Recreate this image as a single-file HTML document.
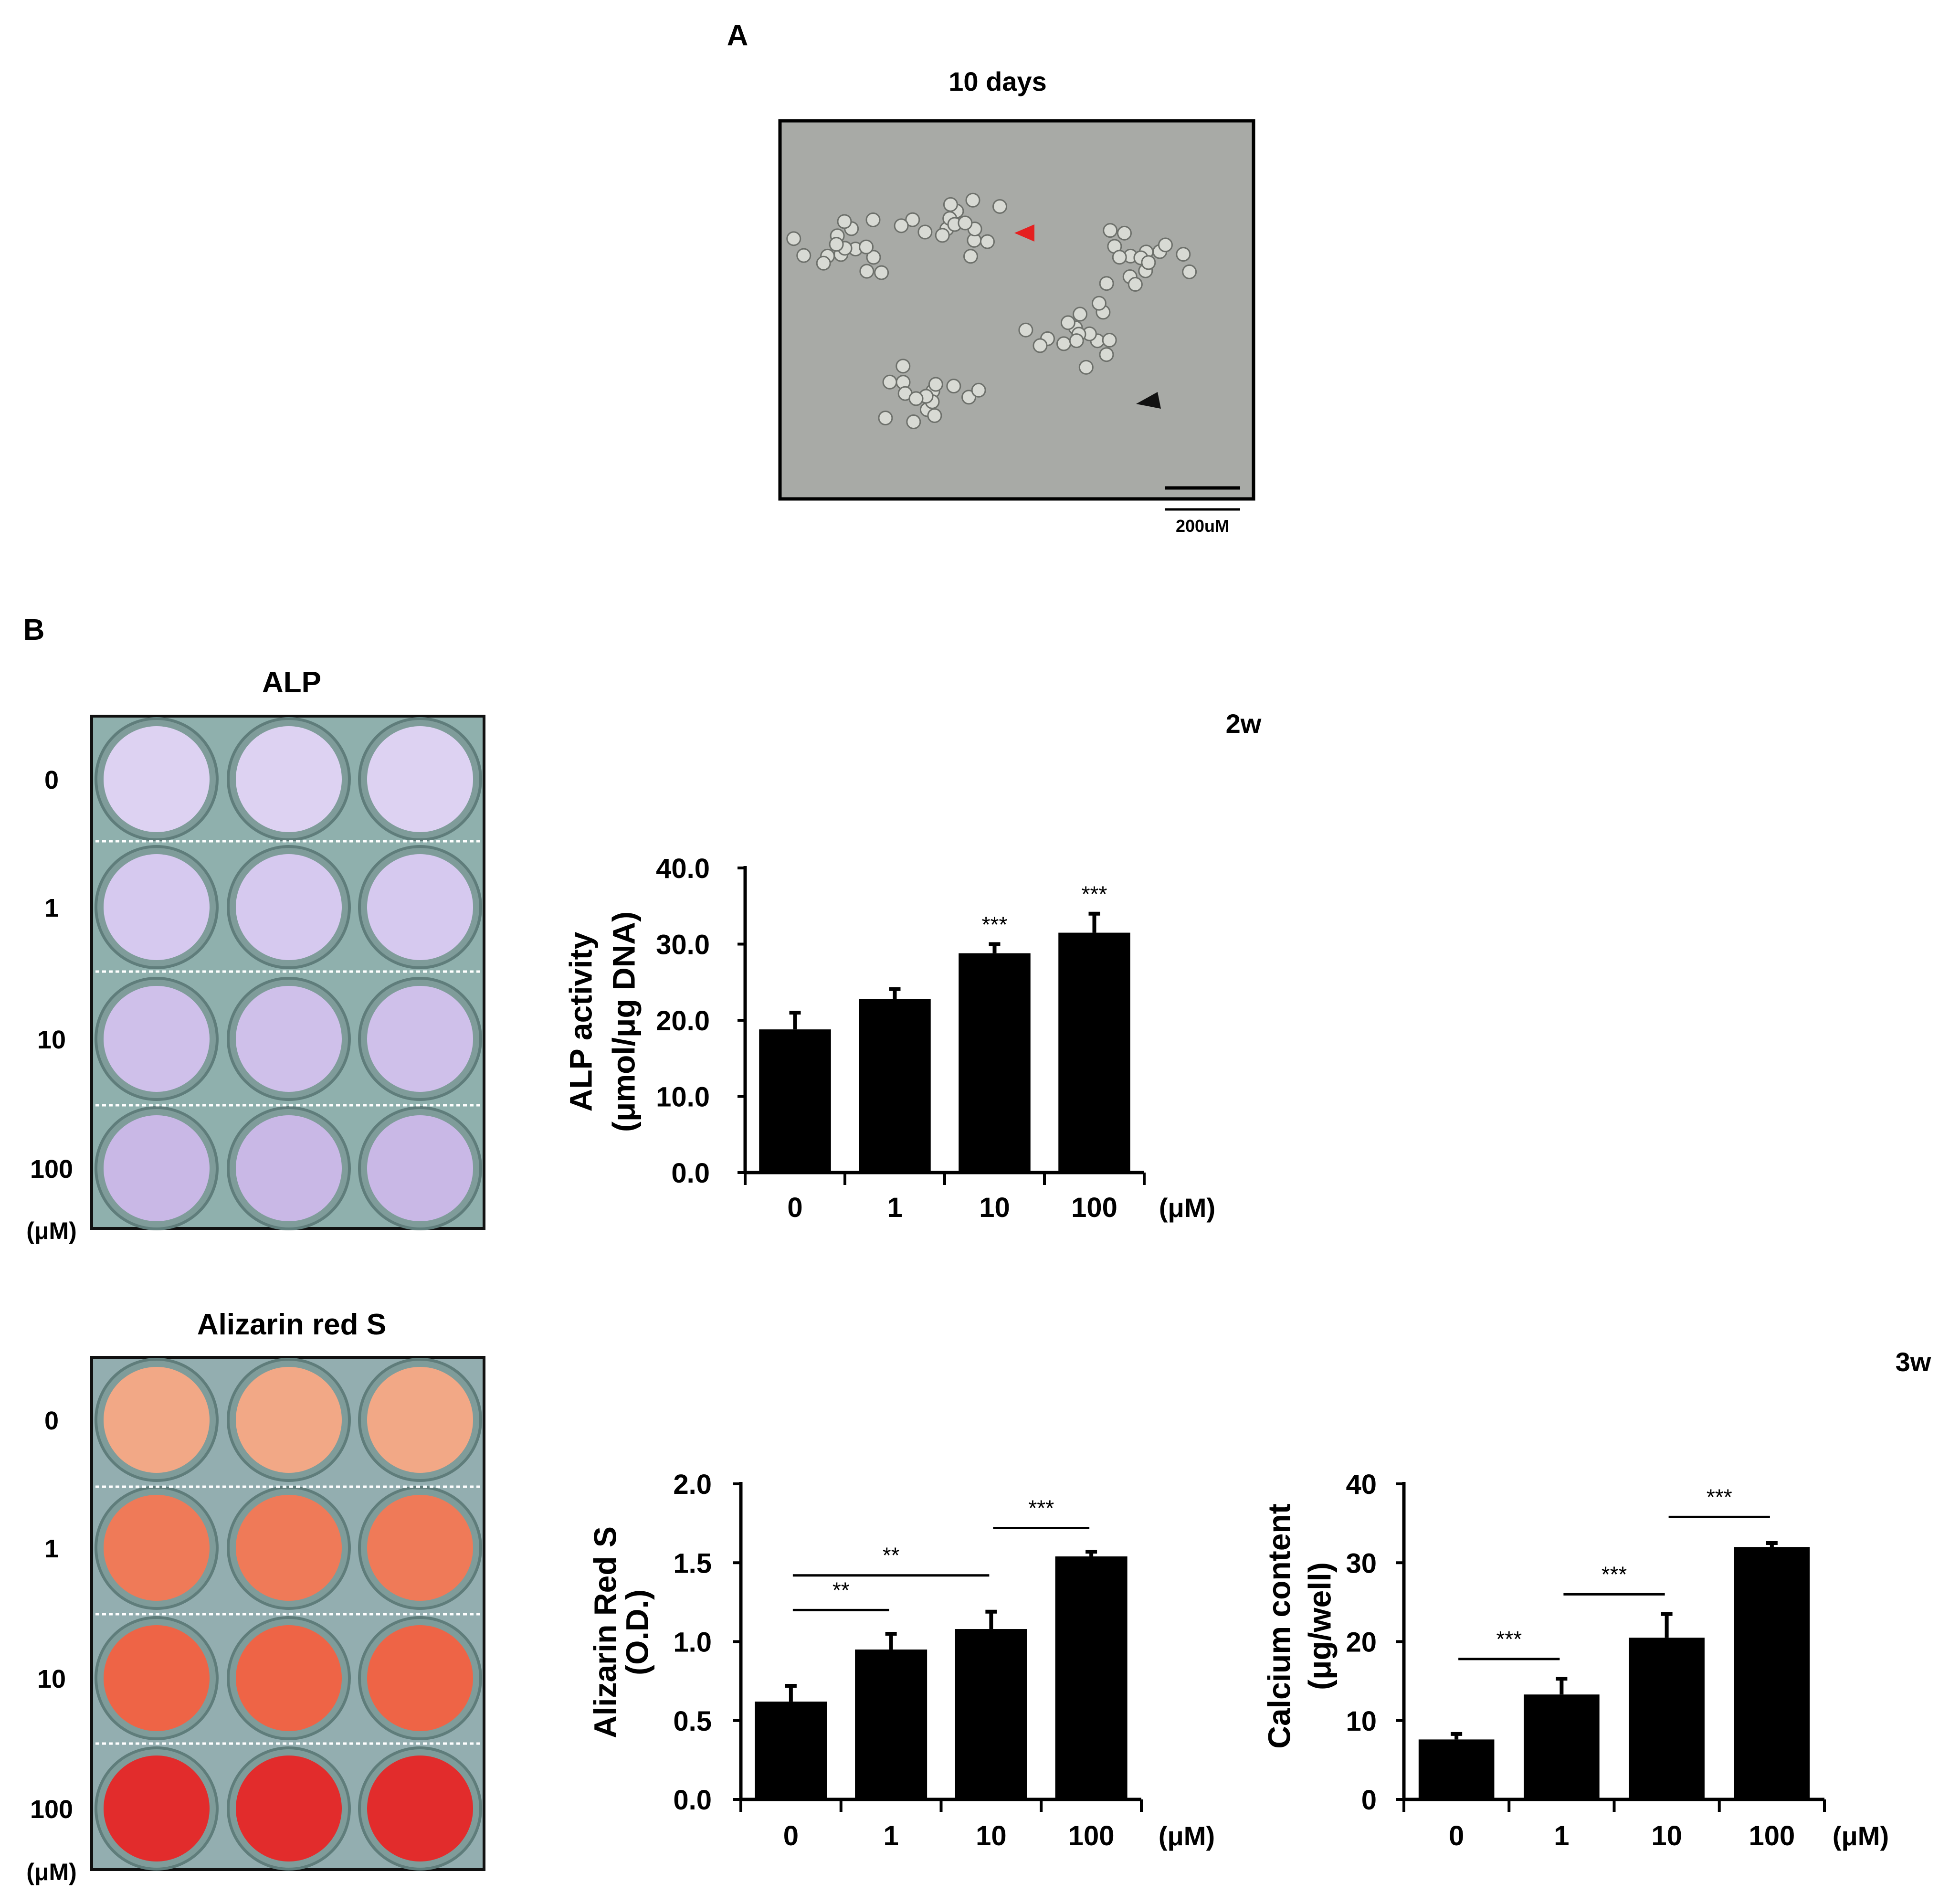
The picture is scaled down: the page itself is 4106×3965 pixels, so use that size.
<!DOCTYPE html>
<html><head><meta charset="utf-8"><style>
html,body{margin:0;padding:0;background:#fff}
svg{display:block}
text{font-family:"Liberation Sans",sans-serif}
</style></head><body>
<svg id="fig" width="4106" height="3965" viewBox="0 0 4106 3965" xmlns="http://www.w3.org/2000/svg">
<rect width="4106" height="3965" fill="#fff"/>
<text x="1545" y="95" font-size="62" font-weight="bold" text-anchor="middle">A</text>
<text x="2090" y="190" font-size="56" font-weight="bold" text-anchor="middle">10 days</text>
<g>
<rect x="1634" y="253" width="992" height="792" fill="#a8aaa6" stroke="#000" stroke-width="7"/>
<g id="cells" fill="#d8dad4" stroke="#6d706b" stroke-width="3"></g>
<polygon points="2125,488 2167,470 2167,506" fill="#e52020"/>
<polygon points="2380,846 2425,821 2432,856" fill="#111"/>
<line x1="2440" y1="1022" x2="2598" y2="1022" stroke="#000" stroke-width="7"/>
</g>
<line x1="2440" y1="1067" x2="2598" y2="1067" stroke="#000" stroke-width="5"/>
<text x="2519" y="1114" font-size="36" font-weight="bold" text-anchor="middle">200uM</text>

<text x="71" y="1340" font-size="62" font-weight="bold" text-anchor="middle">B</text>
<text x="611" y="1450" font-size="62" font-weight="bold" text-anchor="middle">ALP</text>
<text x="611" y="2795" font-size="62" font-weight="bold" text-anchor="middle">Alizarin red S</text>
<text x="2605" y="1535" font-size="56" font-weight="bold" text-anchor="middle">2w</text>
<text x="4008" y="2872" font-size="56" font-weight="bold" text-anchor="middle">3w</text>
<g id="plates"></g>
<g id="charts"></g>
</svg>
<script>
const NS="http://www.w3.org/2000/svg";
function mk(tag,attrs,parent){const e=document.createElementNS(NS,tag);for(const k in attrs)e.setAttribute(k,attrs[k]);parent.appendChild(e);return e;}
const cellsG=document.getElementById('cells');
const clusterCenters=[[2000,470],[2390,540],[2260,700],[1940,830],[1770,520]];
clusterCenters.forEach((c,ci)=>{for(let i=0;i<18;i++){const a=i*2.4+ci,r=(i%6)*14;
const e=mk('circle',{cx:c[0]+Math.cos(a)*r*1.6,cy:c[1]+Math.sin(a)*r,r:14},cellsG);

}});

const plateRows=["0","1","10","100"];
const plates=[
 {top:1500,name:'alp-plate',bg:'#8fb0ad',wells:['#ddd2f2','#d6c9ef','#cfc0ea','#c9b8e6'],rowY:[1632,1900,2176,2447],dots:[1762,2035,2315]},
 {top:2843,name:'alizarin-plate',bg:'#93aeb0',wells:['#f2a886','#ef7a58','#ee6446','#e22c2c'],rowY:[2974,3242,3515,3788],dots:[3114,3381,3652]}
];
const colX=[328,605,880];
const pg=document.getElementById('plates');
plates.forEach(p=>{
 const g=mk('g',{},pg);
 
 
 mk('rect',{x:192,y:p.top,width:822,height:1073,fill:p.bg,stroke:'#111','stroke-width':6},g);
 p.rowY.forEach((y,ri)=>{colX.forEach(x=>{
  mk('circle',{cx:x,cy:y,r:127,fill:'#7f9c9a',stroke:'#5f7d7b','stroke-width':6},g);
  const w=mk('circle',{cx:x,cy:y,r:111,fill:p.wells[ri]},g);
  
  
 });
 const t=mk('text',{x:108,y:y+20,'font-size':54,'font-weight':'bold','text-anchor':'middle'},pg);
 t.textContent=plateRows[ri];
 
 
 });
 p.dots.forEach(y=>mk('line',{x1:200,x2:1007,y1:y,y2:y,stroke:'#fff','stroke-width':5,'stroke-dasharray':'8 6'},g));
 const u=mk('text',{x:108,y:p.top+1095,'font-size':50,'font-weight':'bold','text-anchor':'middle'},pg);
 u.textContent='(μM)';
 
 
});

const categories=["0","1","10","100"];
const alpValues=[18.8,22.8,28.8,31.5];
const alpErrors=[2.2,1.3,1.2,2.5];
const alpTicks=["0.0","10.0","20.0","30.0","40.0"];
const arsValues=[0.62,0.95,1.08,1.54];
const arsErrors=[0.1,0.1,0.11,0.03];
const arsTicks=["0.0","0.5","1.0","1.5","2.0"];
const caValues=[7.6,13.3,20.5,32.0];
const caErrors=[0.7,2.0,3.0,0.5];
const caTicks=["0","10","20","30","40"];
const arsBrackets=[[0,1,1.2,"**"],[0,2,1.42,"**"],[2,3,1.72,"***"]];
const caBrackets=[[0,1,17.8,"***"],[1,2,26.0,"***"],[2,3,35.8,"***"]];
const alpStars=["","","***","***"];

const charts=[
 {name:'alp-chart',x0:1561,x1:2397,y0:2456,y1:1818,max:40,vals:alpValues,errs:alpErrors,ticks:alpTicks,labX:1487,xlabY:2549,unitX:2487,titles:["ALP activity","(μmol/μg DNA)"],titleX:[1222,1312],titleY:2140,stars:alpStars,brackets:[]},
 {name:'alizarin-chart',x0:1552,x1:2391,y0:3769,y1:3108,max:2,vals:arsValues,errs:arsErrors,ticks:arsTicks,labX:1491,xlabY:3865,unitX:2486,titles:["Alizarin Red S","(O.D.)"],titleX:[1273,1340],titleY:3419,stars:null,brackets:arsBrackets},
 {name:'calcium-chart',x0:2941,x1:3822,y0:3769,y1:3108,max:40,vals:caValues,errs:caErrors,ticks:caTicks,labX:2884,xlabY:3865,unitX:3898,titles:["Calcium content","(μg/well)"],titleX:[2685,2770],titleY:3406,stars:null,brackets:caBrackets}
];
const cg=document.getElementById('charts');
charts.forEach(c=>{
 const g=mk('g',{},cg);
 
 
 const band=(c.x1-c.x0)/4;
 const X=i=>c.x0+band*(i+0.5);
 const Y=v=>c.y0-(v/c.max)*(c.y0-c.y1);
 const bw=band*0.72;
 c.vals.forEach((v,i)=>{
  const b=mk('rect',{x:X(i)-bw/2,y:Y(v),width:bw,height:c.y0-Y(v),fill:'#000'},g);
  
  
  const e=c.errs[i];
  const eb=mk('path',{d:`M${X(i)},${Y(v)} V${Y(v+e)} M${X(i)-12},${Y(v+e)} H${X(i)+12}`,stroke:'#000','stroke-width':8,fill:'none'},g);
  
  
  if(c.stars&&c.stars[i]){const s=mk('text',{x:X(i),y:Y(v+e)-25,'font-size':46,'text-anchor':'middle'},g);s.textContent=c.stars[i];
   
   }
  const t=mk('text',{x:X(i),y:c.xlabY,'font-size':58,'font-weight':'bold','text-anchor':'middle'},g);t.textContent=categories[i];
  
  
 });
 c.brackets.forEach(br=>{
  const l=mk('line',{x1:X(br[0])+4,x2:X(br[1])-4,y1:Y(br[2]),y2:Y(br[2]),stroke:'#000','stroke-width':5},g);
  
  
  const s=mk('text',{x:(X(br[0])+X(br[1]))/2,y:Y(br[2])-26,'font-size':46,'text-anchor':'middle'},g);s.textContent=br[3];
  
  
 });
 const ax=mk('path',{d:`M${c.x0},${c.y1-4} V${c.y0} M${c.x0},${c.y0} H${c.x1}`,stroke:'#000','stroke-width':7,fill:'none'},g);
 
 
 for(let i=0;i<=4;i++)mk('line',{x1:c.x0+band*i,x2:c.x0+band*i,y1:c.y0,y2:c.y0+26,stroke:'#000','stroke-width':6},g);
 c.ticks.forEach((tk,i)=>{
  const y=Y(c.max*i/4);
  mk('line',{x1:c.x0-16,x2:c.x0,y1:y,y2:y,stroke:'#000','stroke-width':6},g);
  const t=mk('text',{x:c.labX,y:y+21,'font-size':58,'font-weight':'bold','text-anchor':'end'},g);t.textContent=tk;
  
  
 });
 const u=mk('text',{x:c.unitX,y:c.xlabY,'font-size':56,'font-weight':'bold','text-anchor':'middle'},g);u.textContent='(μM)';
 
 
 c.titles.forEach((tt,k)=>{
  const t=mk('text',{x:c.titleX[k],y:c.titleY,'font-size':66,'font-weight':'bold','text-anchor':'middle',transform:`rotate(-90 ${c.titleX[k]} ${c.titleY})`,'dominant-baseline':'middle'},g);t.textContent=tt;
  
  
 });
});
</script>
</body></html>
